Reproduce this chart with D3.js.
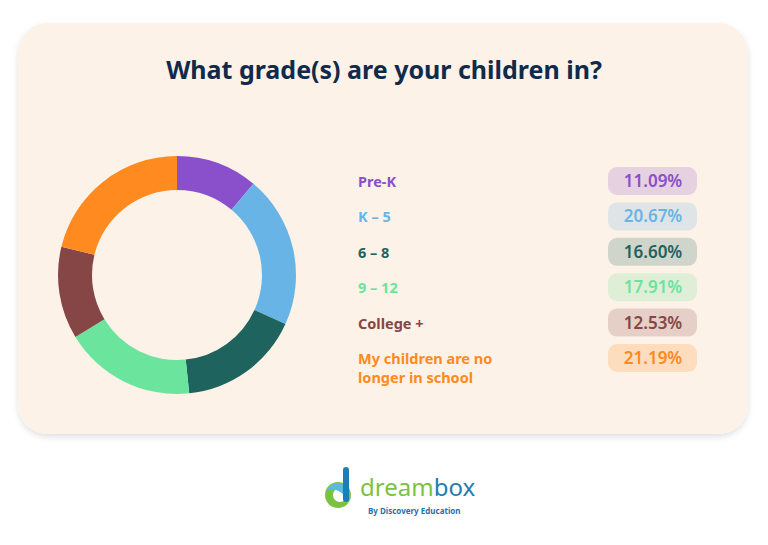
<!DOCTYPE html>
<html>
<head>
<meta charset="utf-8">
<script src="https://cdn.jsdelivr.net/npm/d3@7"></script>
<style>
  body { margin: 0; background: #fff; }
  svg { display: block; font-family: "Noto Sans", "Open Sans", sans-serif; }
</style>
</head>
<body>
<script>
// Chart size
var w = 768;
var h = 545;

// Data
var categories = ["Pre-K", "K \u2013 5", "6 \u2013 8", "9 \u2013 12", "College +", "My children are no|longer in school"];
var values = [11.09, 20.67, 16.60, 17.91, 12.53, 21.19];
var colors = ["#8a4fca", "#68b4e6", "#1f635e", "#6be49d", "#874646", "#ff8a20"];
var title = "What grade(s) are your children in?";

var svg = d3.select("body")
  .append("svg")
  .attr("width", w)
  .attr("height", h);

// Card shadow
var defs = svg.append("defs");
var filter = defs.append("filter")
  .attr("id", "shadow")
  .attr("x", "-10%").attr("y", "-10%")
  .attr("width", "120%").attr("height", "130%");
filter.append("feDropShadow")
  .attr("dx", 0).attr("dy", 3)
  .attr("stdDeviation", 3)
  .attr("flood-color", "#000")
  .attr("flood-opacity", 0.12);

// Card
svg.append("rect")
  .attr("x", 18).attr("y", 23)
  .attr("width", 730).attr("height", 411)
  .attr("rx", 30)
  .attr("fill", "#fdf2e7")
  .attr("filter", "url(#shadow)");

// Title
svg.append("text")
  .attr("x", 384).attr("y", 79)
  .attr("text-anchor", "middle")
  .attr("font-size", "25px")
  .attr("font-weight", 700)
  .attr("fill", "#102a4c")
  .text(title);

// Donut
var pie = d3.pie().sort(null).value(function(d) { return d; });
var arc = d3.arc().innerRadius(85).outerRadius(119);

var donut = svg.append("g")
  .attr("transform", "translate(177,275)");

donut.selectAll("path")
  .data(pie(values))
  .enter()
  .append("path")
  .attr("d", arc)
  .attr("fill", function(d, i) { return colors[i]; });

// Legend rows
var yScale = d3.scalePoint()
  .domain(d3.range(categories.length))
  .range([181, 358]);

var rows = svg.selectAll("g.row")
  .data(categories)
  .enter()
  .append("g")
  .attr("class", "row")
  .attr("transform", function(d, i) { return "translate(0," + yScale(i) + ")"; });

// one text per line so wrapped labels stay separate
rows.each(function(d, i) {
  var g = d3.select(this);
  d.split("|").forEach(function(l, k) {
    g.append("text")
      .attr("x", 358)
      .attr("y", 6 + k * 19)
      .attr("font-size", "14.5px")
      .attr("font-weight", 700)
      .attr("fill", colors[i])
      .text(l);
  });
});

rows.append("rect")
  .attr("x", 608).attr("y", -14)
  .attr("width", 89).attr("height", 28)
  .attr("rx", 9)
  .attr("fill", function(d, i) { return colors[i]; })
  .attr("fill-opacity", 0.2);

rows.append("text")
  .attr("x", 653).attr("y", 6)
  .attr("text-anchor", "middle")
  .attr("font-size", "17px")
  .attr("font-weight", 600)
  .attr("fill", function(d, i) { return colors[i]; })
  .text(function(d, i) { return values[i].toFixed(2) + "%"; });

// Logo
var logo = svg.append("g").attr("transform", "translate(322,463)");
logo.append("circle").attr("cx", 16).attr("cy", 32).attr("r", 13).attr("fill", "#7cc242");
logo.append("circle").attr("cx", 18).attr("cy", 32).attr("r", 7).attr("fill", "#fff");
logo.append("path")
  .attr("d", "M4,28 Q12,16 22,22 L22,32 Q14,24 4,28 Z")
  .attr("fill", "#5bb8e5");
logo.append("rect").attr("x", 21).attr("y", 4).attr("width", 6).attr("height", 35).attr("rx", 3).attr("fill", "#1c7fb3");
logo.append("text")
  .attr("x", 38).attr("y", 33)
  .attr("font-size", "24px")
  .attr("fill", "#7cc242")
  .text("dream")
  .append("tspan")
  .attr("fill", "#1f7db0")
  .text("box");
logo.append("text")
  .attr("x", 46).attr("y", 51)
  .attr("font-size", "8px")
  .attr("font-weight", 700)
  .attr("fill", "#1f6fae")
  .text("By Discovery Education");
</script>
</body>
</html>
